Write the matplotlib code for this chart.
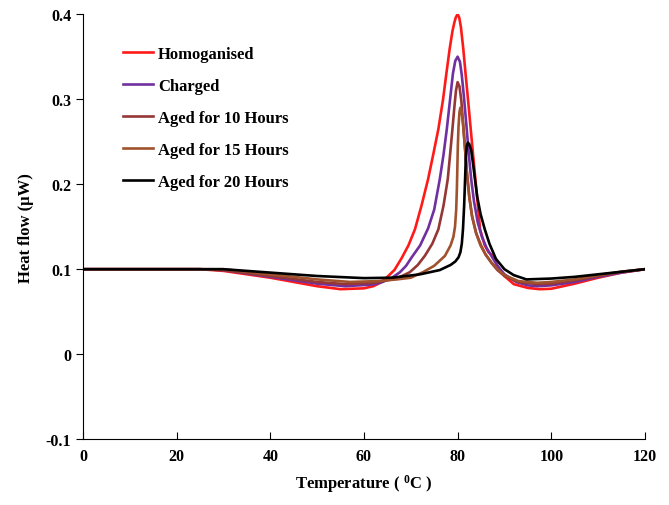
import numpy as np
import matplotlib
matplotlib.use('Agg')
import matplotlib.pyplot as plt

plt.rcParams['font.family'] = ['Liberation Serif', 'DejaVu Serif']
plt.rcParams['font.weight'] = 'bold'
plt.rcParams['mathtext.fontset'] = 'custom'
plt.rcParams['mathtext.rm'] = 'Liberation Serif:bold'
plt.rcParams['mathtext.bf'] = 'Liberation Serif:bold'
plt.rcParams['mathtext.default'] = 'bf'

# Données
labels = ['Homoganised', 'Charged', 'Aged for 10 Hours', 'Aged for 15 Hours', 'Aged for 20 Hours']

x_homo = [0, 10, 20, 25, 30, 35, 40, 45, 50, 55, 60, 62, 63.5, 65, 66.5, 68, 69.5, 70.9, 72.3, 73.7, 74.8, 75.9,
          76.9, 77.6, 78.3, 78.9, 79.3, 79.6, 80, 80.35, 80.7, 81.2, 81.7, 82.3, 82.8, 83.3, 83.9, 84.8,
          85.8, 86.6, 87.5, 88.5, 90, 92, 95, 97.5, 100, 105, 110, 115, 120]
y_homo = [0.1, 0.1, 0.1, 0.1, 0.098, 0.094, 0.09, 0.085, 0.08, 0.0765, 0.0775, 0.08, 0.084, 0.091, 0.099, 0.1125, 0.128, 0.147, 0.175, 0.206, 0.235, 0.265,
          0.3, 0.33, 0.359, 0.38, 0.39, 0.396, 0.4, 0.396, 0.385, 0.36, 0.33, 0.295, 0.265, 0.235, 0.2, 0.147,
          0.128, 0.12, 0.1157, 0.104, 0.092, 0.0824, 0.078, 0.0765, 0.077, 0.083, 0.09, 0.096, 0.1]

x_charged = [0, 10, 20, 25, 30, 35, 40, 45, 50, 56, 62, 64, 66, 67.7, 69, 70.2, 72, 73.7, 75, 76.2, 77, 77.7,
             78.4, 79, 79.5, 80, 80.5, 80.9, 81.4, 81.9, 82.4, 82.9, 83.5, 84.3, 85.2, 86.2, 87.4, 88.5,
             90, 92.5, 95, 97, 100, 105, 110, 115, 120]
y_charged = [0.1, 0.1, 0.1, 0.1, 0.099, 0.095, 0.091, 0.087, 0.083, 0.08, 0.082, 0.085, 0.09, 0.0965, 0.104, 0.114, 0.128, 0.148, 0.17, 0.206, 0.235, 0.265,
             0.3, 0.33, 0.345, 0.35, 0.344, 0.328, 0.3, 0.268, 0.235, 0.206, 0.18, 0.155, 0.138, 0.125, 0.114, 0.104,
             0.094, 0.085, 0.081, 0.08, 0.081, 0.085, 0.091, 0.096, 0.1]

x_aged10 = [0, 10, 20, 25, 30, 40, 50, 56, 62, 67, 69.8, 71.5, 73, 74.6, 75.9, 77, 77.9, 78.4, 78.9, 79.3,
            79.65, 80, 80.4, 80.8, 81.2, 81.6, 82, 82.5, 83.1, 84, 85, 86, 87.3, 88.5, 90, 93, 97, 100, 105, 110, 115, 120]
y_aged10 = [0.1, 0.1, 0.1, 0.1, 0.099, 0.092, 0.085, 0.0825, 0.084, 0.089, 0.0965, 0.105, 0.1157, 0.13, 0.147, 0.175, 0.206, 0.235, 0.265, 0.29,
            0.31, 0.32, 0.315, 0.298, 0.27, 0.241, 0.213, 0.185, 0.162, 0.142, 0.128, 0.117, 0.107, 0.099, 0.092, 0.085, 0.0825, 0.083, 0.087, 0.092, 0.097, 0.1]

x_aged15 = [0, 10, 20, 25, 30, 40, 50, 57, 63, 67, 70, 72.6, 75, 77.3, 78.5, 79.1, 79.45, 79.7, 79.85, 79.95, 80.05, 80.2,
            80.4, 80.6, 80.9, 81.2, 81.6, 82, 82.5, 83.1, 83.9, 84.9, 85.9, 87.2, 88.5, 90, 93, 97, 100, 105, 110, 115, 120]
y_aged15 = [0.1, 0.1, 0.1, 0.1, 0.1, 0.094, 0.088, 0.085, 0.086, 0.088, 0.09, 0.0965, 0.104, 0.1157, 0.128, 0.138, 0.15, 0.17, 0.195, 0.22, 0.245, 0.268,
            0.285, 0.29, 0.284, 0.268, 0.241, 0.213, 0.185, 0.162, 0.143, 0.128, 0.118, 0.108, 0.1, 0.093, 0.086, 0.084, 0.085, 0.088, 0.093, 0.097, 0.1]

x_aged20 = [0, 10, 20, 25, 30, 40, 50, 60, 66, 72, 76.2, 78.5, 79.5, 80.2, 80.6, 80.9, 81.15, 81.4, 81.6, 81.75,
            81.95, 82.2, 82.5, 82.9, 83.3, 83.7, 84.2, 84.9, 85.8, 86.8, 88.2, 90, 92, 94.7,
            100, 105, 110, 115, 120]
y_aged20 = [0.1, 0.1, 0.1, 0.1, 0.1, 0.096, 0.092, 0.0895, 0.09, 0.094, 0.099, 0.105, 0.109, 0.114, 0.12, 0.13, 0.147, 0.175, 0.206, 0.23,
            0.245, 0.249, 0.247, 0.24, 0.224, 0.206, 0.185, 0.165, 0.147, 0.13, 0.112, 0.1, 0.093, 0.088,
            0.089, 0.091, 0.094, 0.097, 0.1]

x_ticks = [0, 20, 40, 60, 80, 100, 120]
y_ticks = [-0.1, 0, 0.1, 0.2, 0.3, 0.4]
y_ticklabels = ['-0.1', '0', '0.1', '0.2', '0.3', '0.4']

colors = ['#ff1a1a', '#7030a0', '#953735', '#a0522d', '#000000']

fig = plt.figure(figsize=(6.69, 5.06), dpi=100)
ax = fig.add_axes([0.124, 0.130, 0.840, 0.840])

series = [(x_homo, y_homo), (x_charged, y_charged), (x_aged10, y_aged10),
          (x_aged15, y_aged15), (x_aged20, y_aged20)]
for (xs, ys), c, lab in zip(series, colors, labels):
    ax.plot(xs, ys, color=c, lw=1.9, label=lab, solid_joinstyle='round')

ax.set_xlim(0, 120)
ax.set_ylim(-0.1, 0.4)
ax.set_xticks(x_ticks)
ax.set_yticks(y_ticks)
ax.set_yticklabels(y_ticklabels)
ax.spines['top'].set_visible(False)
ax.spines['right'].set_visible(False)
ax.tick_params(axis='x', direction='in', length=5, labelsize=11.5, pad=6)
ax.tick_params(axis='y', direction='out', length=5, labelsize=11.5)
ax.set_xlabel(r'Temperature ( $^{0}$C )', fontsize=12, fontweight='bold', labelpad=6)
ax.set_ylabel('Heat flow (μW)', fontsize=12, fontweight='bold', labelpad=8)

leg = ax.legend(loc='upper left', bbox_to_anchor=(0.045, 0.96), frameon=False,
                fontsize=12, handlelength=1.8, handletextpad=0.3, labelspacing=0.95)

plt.savefig('out.png', dpi=100)
